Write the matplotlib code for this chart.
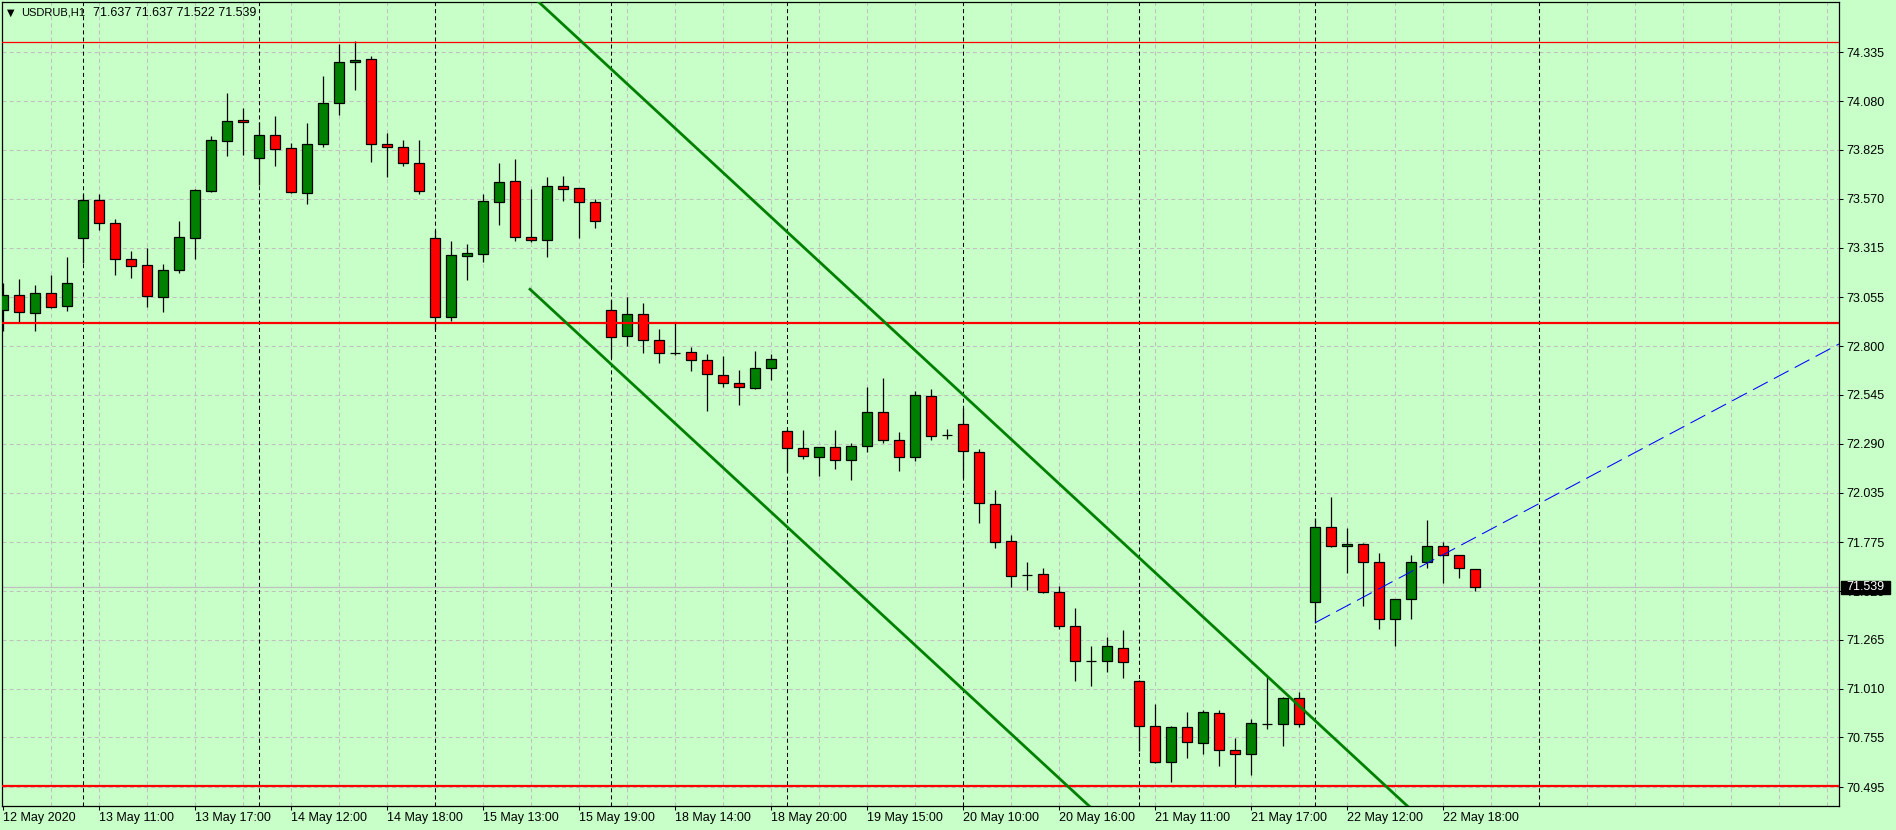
import numpy as np
import matplotlib
matplotlib.use("Agg")
import matplotlib.pyplot as plt
from matplotlib.patches import Rectangle
from matplotlib.transforms import blended_transform_factory

plt.rcParams['font.family'] = ['Liberation Sans', 'DejaVu Sans']
plt.rcParams['lines.scale_dashes'] = False

# USDRUB H1 bars, 12 May 2020 16:00 .. 22 May 2020 20:00
symbol = "USDRUB,H1"
last_ohlc = [71.637, 71.637, 71.522, 71.539]

opens = [72.987, 73.065, 72.974, 73.075, 73.011, 73.366, 73.561, 73.441, 73.253, 73.222,
         73.058, 73.199, 73.366, 73.612, 73.870, 73.979, 73.781, 73.901, 73.833, 73.601,
         73.854, 74.068, 74.282, 74.298, 73.854, 73.838, 73.755, 73.363, 72.950, 73.269,
         73.283, 73.551, 73.661, 73.368, 73.352, 73.635, 73.624, 73.551, 72.987, 72.851,
         72.966, 72.830, 72.765, 72.767, 72.726, 72.647, 72.605, 72.583, 72.684, 72.355,
         72.266, 72.219, 72.271, 72.203, 72.276, 72.454, 72.308, 72.219, 72.537, 72.335,
         72.391, 72.245, 71.973, 71.780, 71.604, 71.607, 71.513, 71.336, 71.153, 71.153,
         71.221, 71.048, 70.813, 70.625, 70.808, 70.725, 70.881, 70.688, 70.667, 70.824,
         70.824, 70.960, 71.461, 71.853, 71.754, 71.764, 71.670, 71.372, 71.477, 71.670,
         71.754, 71.707, 71.637]
highs = [73.128, 73.150, 73.119, 73.171, 73.265, 73.594, 73.594, 73.464, 73.297, 73.311,
         73.229, 73.453, 73.622, 73.896, 74.122, 74.042, 73.969, 74.002, 73.861, 73.965,
         74.211, 74.378, 74.394, 74.315, 73.913, 73.877, 73.877, 73.405, 73.349, 73.332,
         73.595, 73.756, 73.777, 73.621, 73.683, 73.689, 73.628, 73.567, 73.041, 73.056,
         73.025, 72.889, 72.921, 72.795, 72.759, 72.748, 72.675, 72.774, 72.759, 72.365,
         72.362, 72.274, 72.362, 72.292, 72.584, 72.633, 72.349, 72.565, 72.576, 72.365,
         72.478, 72.260, 72.048, 71.811, 71.670, 71.641, 71.546, 71.432, 71.233, 71.280,
         71.317, 71.055, 70.930, 70.815, 70.888, 70.899, 70.899, 70.751, 70.850, 71.078,
         70.968, 70.991, 71.900, 72.011, 71.848, 71.773, 71.719, 71.477, 71.707, 71.889,
         71.776, 71.707, 71.637]
lows = [72.879, 72.922, 72.879, 73.001, 72.985, 73.236, 73.406, 73.171, 73.157, 73.004,
        72.980, 73.183, 73.257, 73.605, 73.795, 73.800, 73.643, 73.743, 73.600, 73.544,
        73.842, 74.009, 74.140, 73.763, 73.685, 73.743, 73.596, 72.891, 72.933, 73.145,
        73.239, 73.433, 73.351, 73.345, 73.267, 73.560, 73.365, 73.417, 72.736, 72.802,
        72.766, 72.713, 72.752, 72.672, 72.463, 72.588, 72.494, 72.574, 72.624, 72.140,
        72.210, 72.121, 72.160, 72.100, 72.248, 72.295, 72.149, 72.201, 72.308, 72.313,
        72.109, 71.877, 71.747, 71.543, 71.526, 71.512, 71.324, 71.052, 71.024, 71.099,
        71.068, 70.686, 70.620, 70.524, 70.650, 70.671, 70.608, 70.498, 70.559, 70.801,
        70.712, 70.812, 71.355, 71.750, 71.616, 71.444, 71.324, 71.235, 71.376, 71.639,
        71.564, 71.590, 71.522]
closes = [73.065, 72.980, 73.075, 73.006, 73.128, 73.561, 73.441, 73.257, 73.220, 73.063,
          73.196, 73.368, 73.614, 73.875, 73.974, 73.969, 73.901, 73.828, 73.603, 73.854,
          74.068, 74.282, 74.293, 73.854, 73.838, 73.755, 73.608, 72.950, 73.274, 73.285,
          73.556, 73.655, 73.372, 73.352, 73.635, 73.622, 73.551, 73.452, 72.846, 72.966,
          72.830, 72.762, 72.765, 72.726, 72.652, 72.605, 72.584, 72.684, 72.731, 72.266,
          72.224, 72.271, 72.203, 72.276, 72.454, 72.308, 72.219, 72.543, 72.328, 72.335,
          72.250, 71.978, 71.778, 71.600, 71.604, 71.517, 71.336, 71.153, 71.153, 71.231,
          71.148, 70.813, 70.629, 70.808, 70.730, 70.886, 70.688, 70.667, 70.829, 70.824,
          70.960, 70.827, 71.853, 71.754, 71.764, 71.670, 71.372, 71.477, 71.670, 71.754,
          71.707, 71.639, 71.539]

time_labels = ["12 May 2020", "13 May 11:00", "13 May 17:00", "14 May 12:00", "14 May 18:00",
               "15 May 13:00", "15 May 19:00", "18 May 14:00", "18 May 20:00", "19 May 15:00",
               "20 May 10:00", "20 May 16:00", "21 May 11:00", "21 May 17:00", "22 May 12:00",
               "22 May 18:00"]
day_starts = [5, 16, 27, 38, 49, 60, 71, 82, 96]
price_labels = ["74.335", "74.080", "73.825", "73.570", "73.315", "73.055", "72.800", "72.545",
                "72.290", "72.035", "71.775", "71.520", "71.265", "71.010", "70.755", "70.495"]

# drawn objects: horizontal levels and trend lines (bar index, price)
level_thin = 74.387
levels_thick = [72.922, 70.502]
channel_upper = ([33.0, 90.0], [74.634, 70.223])
channel_lower = ([32.92, 70.0], [73.097, 70.232])
trend_blue = ([82.0, 115.0], [71.355, 72.823])

BG = '#c8ffc8'
GRID = '#c0c0c0'
W, H = 1896, 830
L, R, T, B = 2, 1839, 2, 806

fig = plt.figure(figsize=(W / 100, H / 100), dpi=100, facecolor=BG)
ax = fig.add_axes([L / W, (H - B) / H, (R - L) / W, (B - T) / H], facecolor=BG)

n = len(opens)
x = np.arange(n)
ax.set_xlim(-0.08, 114.73)
ax.set_ylim(70.397, 74.598)

# grid
yt = [float(s) for s in price_labels]
for v in yt:
    ax.axhline(v, color=GRID, lw=0.75, dashes=(2.9, 2.2), zorder=0)
for b in np.arange(3, 115, 3):
    ax.axvline(b, color=GRID, lw=0.75, dashes=(2.9, 2.2), zorder=0)
for d in day_starts:
    ax.axvline(d, color='k', lw=0.75, dashes=(2.9, 2.2), zorder=1)

# bid line
ax.axhline(last_ohlc[3], color=GRID, lw=0.9, zorder=1.5)

# candles
o = np.array(opens)
c = np.array(closes)
colors = np.where(c > o, '#008000', np.where(c < o, '#ff0000', 'k'))
ax.vlines(x, lows, highs, color='k', lw=0.9, zorder=3)
ax.bar(x, np.abs(c - o), bottom=np.minimum(o, c), width=0.62, color=colors,
       edgecolor='k', linewidth=0.9, zorder=4)

# objects
ax.axhline(level_thin, color='#ff0000', lw=0.9, zorder=5)
for lv in levels_thick:
    ax.axhline(lv, color='#ff0000', lw=1.6, zorder=5)
ax.plot(*channel_upper, color='#008000', lw=2.0, zorder=5)
ax.plot(*channel_lower, color='#008000', lw=2.0, zorder=5)
ax.plot(*trend_blue, color='#0000ff', lw=0.75, dashes=(12, 5), zorder=5)

# axes
for s in ax.spines.values():
    s.set_color('k')
    s.set_linewidth(0.9)
ax.yaxis.tick_right()
ax.set_yticks(yt, price_labels)
ax.set_xticks(np.arange(0, 6 * len(time_labels), 6), time_labels)
for lab in ax.get_xticklabels():
    lab.set_horizontalalignment('left')
ax.tick_params(axis='both', direction='out', length=3, width=0.75, labelsize=9,
               colors='k')
ax.tick_params(axis='y', pad=2.5)
ax.tick_params(axis='x', pad=1.5)

# current price box on the price scale
tr = blended_transform_factory(ax.transAxes, ax.transData)
px = (R - L)
ax.add_patch(Rectangle(((1841 - L) / px, last_ohlc[3] - 0.034), 49 / px, 0.068,
                       transform=tr, facecolor='k', edgecolor='k', clip_on=False, zorder=6))
ax.text((1846 - L) / px, last_ohlc[3], f"{last_ohlc[3]:.3f}", transform=tr, color='white',
        fontsize=9, va='center', ha='left', clip_on=False, zorder=7)

# header
fig.text(7 / W, 1 - 12.5 / H, "▼", fontsize=7, va='center', ha='left', family='DejaVu Sans')
fig.text(21 / W, 1 - 12.5 / H, symbol, fontsize=8, va='center', ha='left')
fig.text(93 / W, 1 - 12.5 / H, " ".join(f"{v:.3f}" for v in last_ohlc), fontsize=9,
         va='center', ha='left')

fig.savefig("out.png", dpi=100, facecolor=BG)
